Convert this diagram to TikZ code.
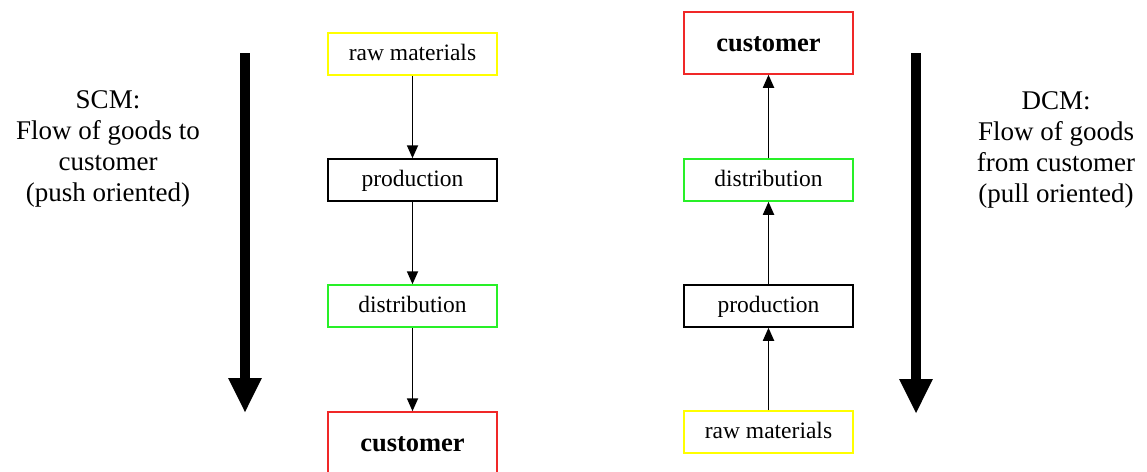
\documentclass[tikz,border=0pt]{standalone}
\usepackage{fontspec}
\setmainfont{Liberation Serif}
\usetikzlibrary{arrows.meta}
\definecolor{boxyellow}{RGB}{255,255,0}
\definecolor{boxgreen}{RGB}{40,240,40}
\definecolor{boxred}{RGB}{240,40,40}
\begin{document}
\begin{tikzpicture}[x=1pt,y=-1pt,
  stage/.style={draw,line width=1.5pt,minimum width=169pt,minimum height=42pt,
    inner sep=0pt,text height=14pt,text depth=2pt,font=\fontsize{23.5}{27}\selectfont},
  endstage/.style={stage,minimum height=62pt,text height=17pt,text depth=1pt,
    font=\fontsize{26.5}{30}\selectfont\bfseries},
  link/.style={line width=1.8pt,-{Triangle[width=11pt,length=13pt]}},
  bigflow/.style={line width=10.5pt,-{Triangle[width=31pt,length=35pt]}},
  caption/.style={align=center,font=\fontsize{27}{31}\selectfont}]
\useasboundingbox (0,0) rectangle (1147,471);

% supply chain: raw materials pushed down to the customer
\node[stage,draw=boxyellow] (sraw)  at (412.5,54)  {raw materials};
\node[stage,draw=black]     (sprod) at (412.5,180) {production};
\node[stage,draw=boxgreen]  (sdist) at (412.5,306) {distribution};
\node[endstage,draw=boxred] (scust) at (412.5,443) {customer};
\draw[link] (sraw)  -- (sprod);
\draw[link] (sprod) -- (sdist);
\draw[link] (sdist) -- (scust);

% demand chain: the customer pulls goods up
\node[endstage,draw=boxred] (dcust) at (768.5,43)  {customer};
\node[stage,draw=boxgreen]  (ddist) at (768.5,180) {distribution};
\node[stage,draw=black]     (dprod) at (768.5,306) {production};
\node[stage,draw=boxyellow] (draw)  at (768.5,432) {raw materials};
\draw[link] (draw)  -- (dprod);
\draw[link] (dprod) -- (ddist);
\draw[link] (ddist) -- (dcust);

% direction arrows
\coordinate (sfrom) at (245,53);
\coordinate (sto)   at (245,413);
\draw[bigflow] (sfrom) -- (sto);
\coordinate (dfrom) at (916,53);
\coordinate (dto)   at (916,414);
\draw[bigflow] (dfrom) -- (dto);

% captions
\node[caption] (scm) at (108,149) {SCM:\\Flow of goods to\\customer\\(push oriented)};
\node[caption] (dcm) at (1056,150) {DCM:\\Flow of goods\\from customer\\(pull oriented)};
\end{tikzpicture}
\end{document}
